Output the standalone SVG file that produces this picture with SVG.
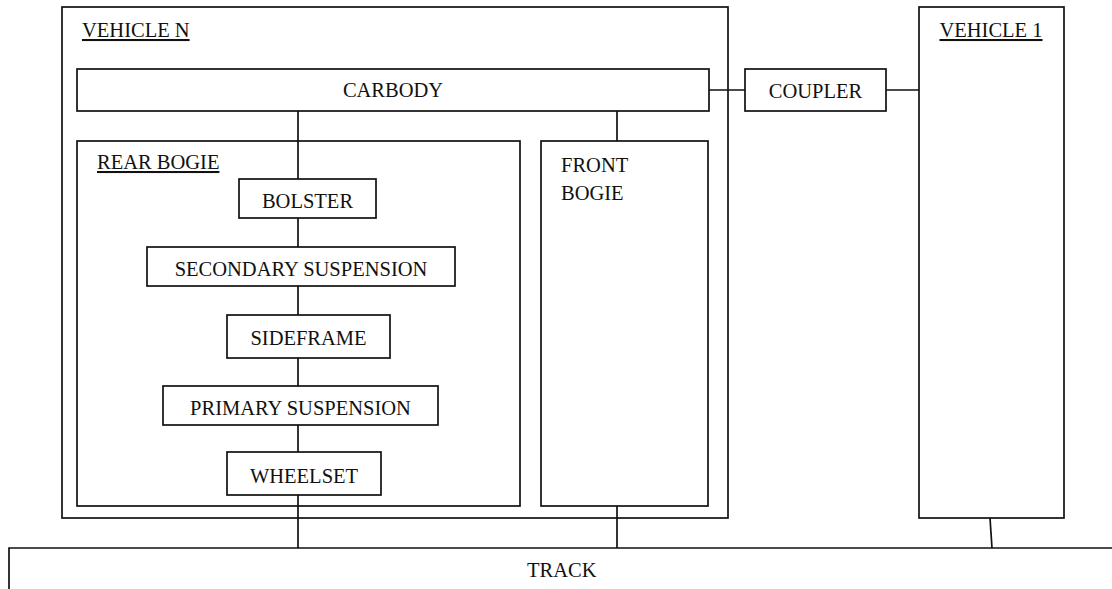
<svg xmlns="http://www.w3.org/2000/svg" width="1112" height="589" viewBox="0 0 1112 589">
<style>
.box{fill:#fff;stroke:#111;stroke-width:1.7}
.frame{fill:none;stroke:#111;stroke-width:1.7}
.ln{fill:none;stroke:#111;stroke-width:1.7}
text{font-family:"Liberation Serif","Times New Roman",serif;font-size:20.5px;fill:#111}
.c{text-anchor:middle}
.u{text-decoration:underline}
</style>
<rect width="1112" height="589" fill="#fff"/>
<g id="track"><path class="frame" d="M1120,548 H9 V595"/><text x="527" y="577">TRACK</text></g>
<g id="vehicle-n"><rect class="frame" x="62" y="7" width="666" height="511"/><text class="u" x="82" y="37">VEHICLE N</text></g>
<g id="vehicle-1"><rect class="frame" x="919" y="7" width="145" height="511"/><text class="u c" x="991" y="37">VEHICLE 1</text></g>
<g id="connectors">
<line class="ln" x1="709" y1="90" x2="745" y2="90"/>
<line class="ln" x1="886" y1="90" x2="919" y2="90"/>
<line class="ln" x1="298" y1="111" x2="298" y2="179"/>
<line class="ln" x1="617" y1="111" x2="617" y2="141"/>
<line class="ln" x1="298" y1="218" x2="298" y2="247"/>
<line class="ln" x1="298" y1="286" x2="298" y2="315"/>
<line class="ln" x1="298" y1="358" x2="298" y2="386"/>
<line class="ln" x1="298" y1="425" x2="298" y2="452"/>
<line class="ln" x1="298" y1="495" x2="298" y2="548"/>
<line class="ln" x1="617" y1="506" x2="617" y2="548"/>
<line class="ln" x1="990" y1="518" x2="992" y2="548"/>
</g>
<g id="carbody"><rect class="box" x="77" y="69" width="632" height="42"/><text class="c" x="393" y="97">CARBODY</text></g>
<g id="coupler"><rect class="box" x="745" y="69" width="141" height="42"/><text class="c" x="815.5" y="98">COUPLER</text></g>
<g id="rear-bogie"><rect class="frame" x="77" y="141" width="443" height="365"/><text class="u" x="97" y="169">REAR BOGIE</text></g>
<g id="front-bogie"><rect class="frame" x="541" y="141" width="167" height="365"/><text x="561" y="172">FRONT</text><text x="561" y="200">BOGIE</text></g>
<g id="bolster"><rect class="box" x="239" y="179" width="137" height="39"/><text class="c" x="307.5" y="208">BOLSTER</text></g>
<g id="secondary-suspension"><rect class="box" x="147" y="247" width="308" height="39"/><text class="c" x="301" y="276">SECONDARY SUSPENSION</text></g>
<g id="sideframe"><rect class="box" x="227" y="315" width="163" height="43"/><text class="c" x="308.5" y="345">SIDEFRAME</text></g>
<g id="primary-suspension"><rect class="box" x="163" y="386" width="275" height="39"/><text class="c" x="300.5" y="415">PRIMARY SUSPENSION</text></g>
<g id="wheelset"><rect class="box" x="227" y="452" width="154" height="43"/><text class="c" x="304" y="483">WHEELSET</text></g>
</svg>
